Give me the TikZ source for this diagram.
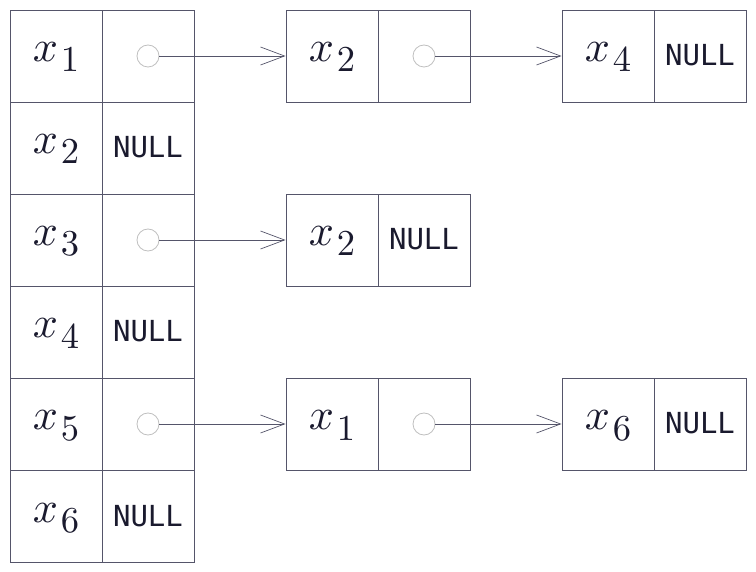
\documentclass[tikz,border=0pt]{standalone}
\usepackage{graphicx}
\usepackage{fontspec}
\newfontfamily\monofnt{DejaVu Sans Mono}
\usetikzlibrary{arrows.meta}
\definecolor{ink}{HTML}{1A1A2E}
\definecolor{edge}{HTML}{55556A}
\newcommand{\bigvar}[1]{\fontsize{10}{12}\selectfont\scalebox{4.4}{$x$}\kern 3pt\raisebox{-10pt}{\scalebox{3.65}{$#1$}}}
\tikzset{
  cell/.style={draw=edge, line width=0.9pt, minimum width=92pt, minimum height=92pt, inner sep=0pt, text=ink, anchor=center},
  var/.style={cell, text height=12pt, text depth=0pt},
  nul/.style={cell, text height=20pt, text depth=0pt, font=\monofnt\fontsize{29}{30}\selectfont},
  ptr/.style={circle, draw=black!25, line width=0.8pt, minimum size=22pt, inner sep=0pt},
  link/.style={draw=edge, line width=0.7pt, -{Straight Barb[length=24pt,width=18pt,line width=0.7pt]}}
}
\begin{document}
\begin{tikzpicture}[x=1pt,y=-1pt]
\useasboundingbox (0,0) rectangle (756,572);
% left column
\node[var] (a1) at (56,56) {\bigvar{1}};
\node[cell] (p1) at (148,56) {};
\node[var] (a2) at (56,148) {\bigvar{2}};
\node[nul] (n2) at (148,148) {NULL};
\node[var] (a3) at (56,240) {\bigvar{3}};
\node[cell] (p3) at (148,240) {};
\node[var] (a4) at (56,332) {\bigvar{4}};
\node[nul] (n4) at (148,332) {NULL};
\node[var] (a5) at (56,424) {\bigvar{5}};
\node[cell] (p5) at (148,424) {};
\node[var] (a6) at (56,516) {\bigvar{6}};
\node[nul] (n6) at (148,516) {NULL};
% row 1 list
\node[var] (b1) at (332,56) {\bigvar{2}};
\node[cell] (q1) at (424,56) {};
\node[var] (c1) at (608,56) {\bigvar{4}};
\node[nul] (d1) at (700,56) {NULL};
% row 3 list
\node[var] (b3) at (332,240) {\bigvar{2}};
\node[nul] (q3) at (424,240) {NULL};
% row 5 list
\node[var] (b5) at (332,424) {\bigvar{1}};
\node[cell] (q5) at (424,424) {};
\node[var] (c5) at (608,424) {\bigvar{6}};
\node[nul] (d5) at (700,424) {NULL};
% pointer circles
\node[ptr] (o1) at (p1.center) {};
\node[ptr] (o3) at (p3.center) {};
\node[ptr] (o5) at (p5.center) {};
\node[ptr] (r1) at (q1.center) {};
\node[ptr] (r5) at (q5.center) {};
% links
\draw[link] (o1.east) -- (b1.west);
\draw[link] (o3.east) -- (b3.west);
\draw[link] (o5.east) -- (b5.west);
\draw[link] (r1.east) -- (c1.west);
\draw[link] (r5.east) -- (c5.west);
\end{tikzpicture}
\end{document}
